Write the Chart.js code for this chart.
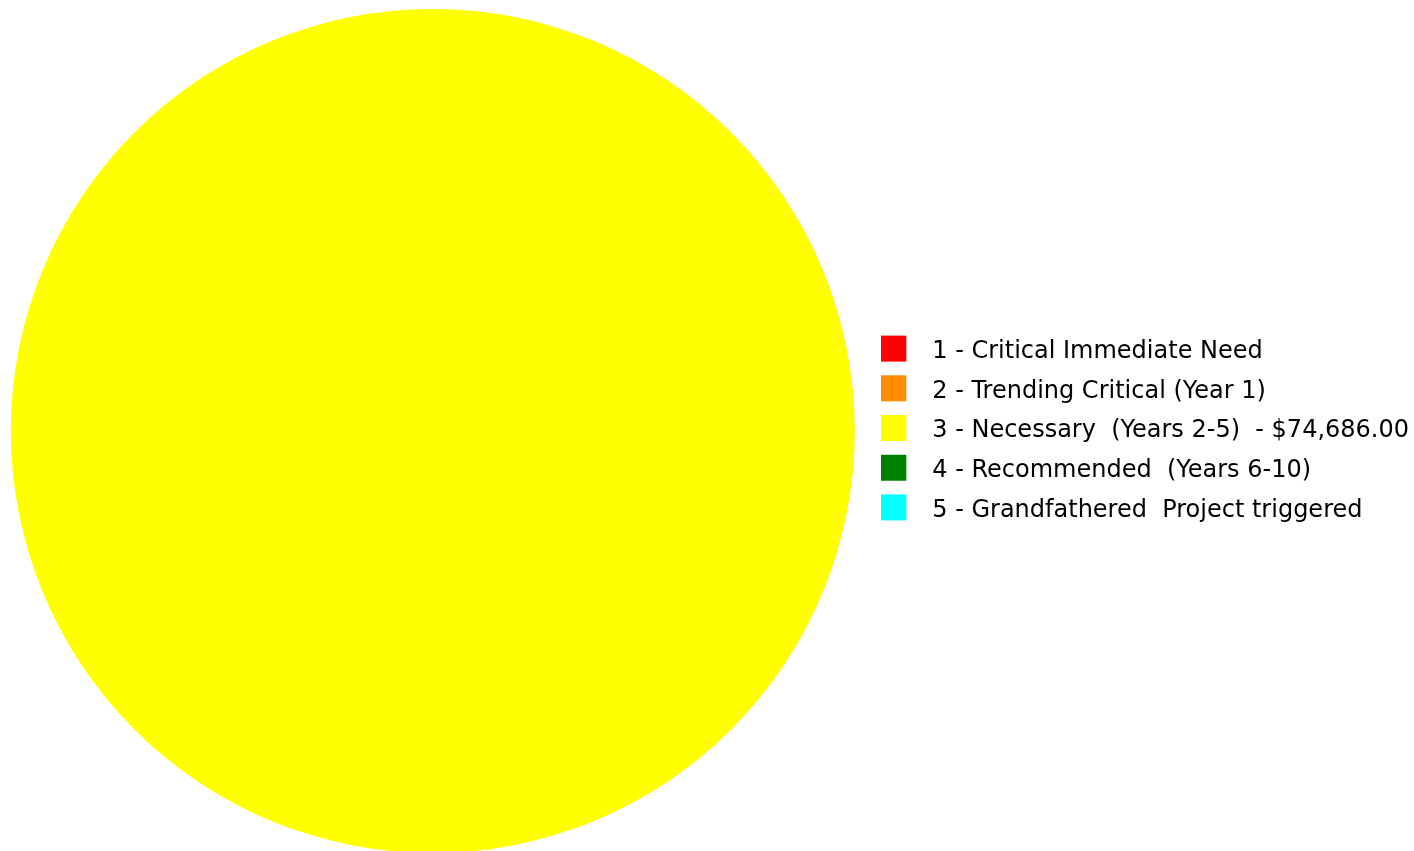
<!DOCTYPE html>
<html>
<head>
<meta charset="utf-8">
<script src="https://cdn.jsdelivr.net/npm/chart.js@4/dist/chart.umd.min.js"></script>
<style>
  html, body { margin: 0; padding: 0; background: #fff; overflow: hidden; }
  #wrap { position: absolute; left: 0; top: 0; width: 1419px; height: 862px; }
</style>
</head>
<body>
<div id="wrap"><canvas id="chart"></canvas></div>
<script>
const labels = [
  "1 - Critical Immediate Need",
  "2 - Trending Critical (Year 1)",
  "3 - Necessary  (Years 2-5)  - $74,686.00",
  "4 - Recommended  (Years 6-10)",
  "5 - Grandfathered  Project triggered",
];
const values = [0, 0, 74686, 0, 0];
const colors = ["#FF0000", "#FF8C00", "#FFFF00", "#008000", "#00FFFF"];

// legend swatch: box drawn on the left of a wider transparent image,
// so the label text sits further from the box
function swatch(color) {
  const c = document.createElement("canvas");
  c.width = 39;
  c.height = 34;
  const g = c.getContext("2d");
  g.fillStyle = color;
  g.fillRect(0, 1, 25, 26);
  return c;
}

const chart = new Chart(document.getElementById("chart"), {
  type: "pie",
  data: {
    labels: labels,
    datasets: [{
      data: values,
      backgroundColor: colors,
      borderWidth: 0,
      hoverOffset: 0,
      offset: 0,
    }],
  },
  options: {
    responsive: true,
    maintainAspectRatio: false,
    animation: false,
    layout: { padding: { top: 9, bottom: 9, left: 0, right: 0 } },
    plugins: {
      tooltip: { enabled: false },
      legend: {
        position: "right",
        labels: {
          usePointStyle: true,
          pointStyleWidth: 39,
          padding: 15.7,
          color: "#000",
          font: { family: "'DejaVu Sans', sans-serif", size: 24 },
          generateLabels: (c) => {
            const items = Chart.overrides.pie.plugins.legend.labels.generateLabels(c);
            items.forEach((it, i) => { it.pointStyle = swatch(colors[i]); });
            return items;
          },
        },
      },
    },
  },
});
</script>
</body>
</html>
